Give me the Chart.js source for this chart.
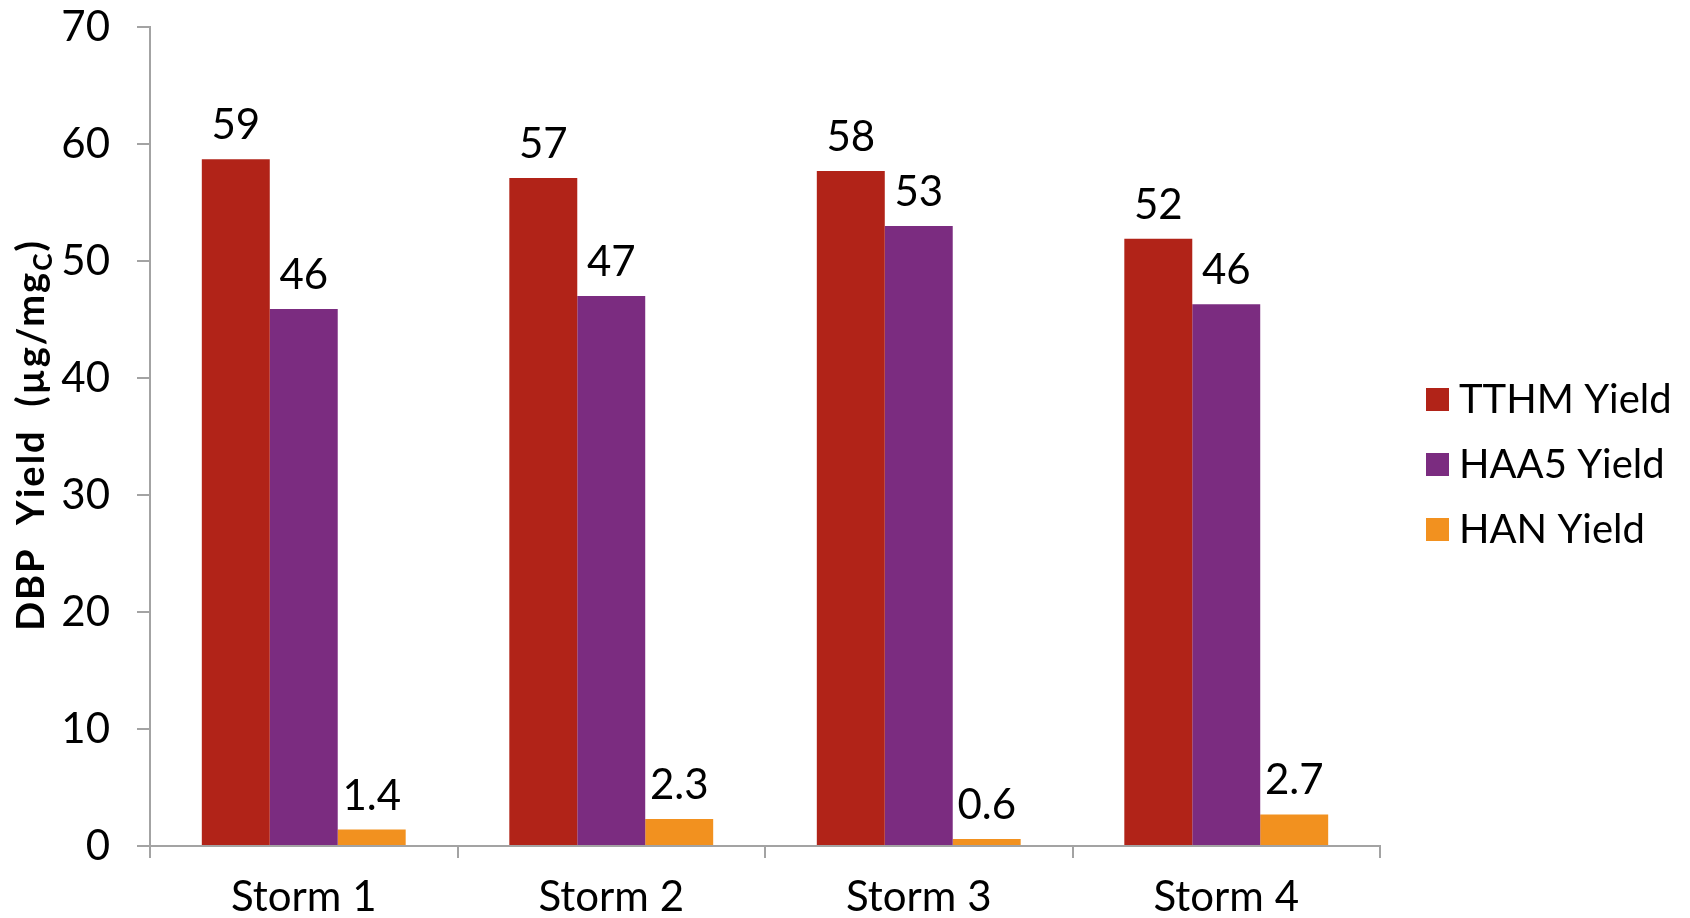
<!DOCTYPE html>
<html>
<head>
<meta charset="utf-8">
<script src="https://cdn.jsdelivr.net/npm/chart.js@4"></script>
<style>
  html, body { margin: 0; padding: 0; background: #fff; }
  #wrap { width: 1690px; height: 918px; }
</style>
</head>
<body>
<div id="wrap"><canvas id="yieldChart" width="1690" height="918"></canvas></div>
<script>
const storms = ['Storm 1', 'Storm 2', 'Storm 3', 'Storm 4'];
const tthmYield = [58.7, 57.1, 57.7, 51.9];
const haa5Yield = [45.9, 47.0, 53.0, 46.3];
const hanYield = [1.4, 2.3, 0.6, 2.7];
const tthmLabels = ['59', '57', '58', '52'];
const haa5Labels = ['46', '47', '53', '46'];
const hanLabels = ['1.4', '2.3', '0.6', '2.7'];
const yTicks = [0, 10, 20, 30, 40, 50, 60, 70];

const FONT = 'Lato, "Open Sans", "DejaVu Sans", sans-serif';
const axisGray = '#a3a3a3';

// value labels above each bar
const barLabels = {
    id: 'barLabels',
    afterDatasetsDraw(chart) {
        const ctx = chart.ctx;
        const allLabels = [tthmLabels, haa5Labels, hanLabels];
        ctx.save();
        ctx.font = '42px ' + FONT;
        ctx.fillStyle = '#000';
        ctx.textAlign = 'center';
        ctx.textBaseline = 'alphabetic';
        chart.data.datasets.forEach((ds, i) => {
            const meta = chart.getDatasetMeta(i);
            meta.data.forEach((bar, j) => {
                ctx.fillText(allLabels[i][j], bar.x, bar.y - 20);
            });
        });
        ctx.restore();
    }
};

// y title with subscript C, plus legend on the right
const extras = {
    id: 'extras',
    afterDraw(chart) {
        const ctx = chart.ctx;
        ctx.save();
        // y axis title
        const mainFont = 'bold 38px ' + FONT;
        const subFont = 'bold 26px ' + FONT;
        const partA = 'DBP  Yield  (\u00b5g/mg';
        const partB = 'C';
        const partC = ')';
        ctx.letterSpacing = '2px';
        ctx.font = mainFont;
        const wA = ctx.measureText(partA).width;
        const wC = ctx.measureText(partC).width;
        ctx.font = subFont;
        const wB = ctx.measureText(partB).width;
        const total = wA + wB + wC;
        ctx.translate(44, 435);
        ctx.rotate(-Math.PI / 2);
        ctx.fillStyle = '#000';
        ctx.textBaseline = 'alphabetic';
        ctx.textAlign = 'left';
        let x = -total / 2;
        ctx.font = mainFont;
        ctx.fillText(partA, x, 0);
        x += wA;
        ctx.font = subFont;
        ctx.fillText(partB, x, 8);
        x += wB;
        ctx.font = mainFont;
        ctx.fillText(partC, x, 0);
        ctx.restore();

        // legend
        ctx.save();
        ctx.font = '40px ' + FONT;
        ctx.textBaseline = 'middle';
        ctx.textAlign = 'left';
        chart.data.datasets.forEach((ds, i) => {
            const cy = 399.5 + i * 65;
            ctx.fillStyle = ds.backgroundColor;
            ctx.fillRect(1426, cy - 11.5, 23, 23);
            ctx.fillStyle = '#000';
            ctx.fillText(ds.label, 1459, cy + 1);
        });
        ctx.restore();
    }
};

new Chart(document.getElementById('yieldChart'), {
    type: 'bar',
    data: {
        labels: storms,
        datasets: [
            { label: 'TTHM Yield', data: tthmYield, backgroundColor: '#b12318' },
            { label: 'HAA5 Yield', data: haa5Yield, backgroundColor: '#7b2c80' },
            { label: 'HAN Yield', data: hanYield, backgroundColor: '#f2911f' }
        ]
    },
    options: {
        responsive: false,
        animation: false,
        layout: { padding: { top: 0, right: 310, left: 0, bottom: 0 } },
        datasets: {
            bar: { categoryPercentage: 0.663, barPercentage: 1.0 }
        },
        plugins: {
            legend: { display: false },
            tooltip: { enabled: false }
        },
        scales: {
            x: {
                grid: {
                    display: true,
                    drawOnChartArea: false,
                    drawTicks: true,
                    tickLength: 12,
                    color: axisGray,
                    lineWidth: 2
                },
                border: { display: true, color: axisGray, width: 2 },
                ticks: {
                    color: '#000',
                    font: { family: FONT, size: 42 },
                    padding: 14
                },
                afterFit(scale) { scale.height = 72; }
            },
            y: {
                min: 0,
                max: 70,
                afterBuildTicks(scale) { scale.ticks = yTicks.map(v => ({ value: v })); },
                grid: {
                    display: true,
                    drawOnChartArea: false,
                    drawTicks: true,
                    tickLength: 13,
                    color: axisGray,
                    lineWidth: 2
                },
                border: { display: true, color: axisGray, width: 2 },
                ticks: {
                    color: '#000',
                    font: { family: FONT, size: 42 },
                    padding: 27
                },
                afterFit(scale) {
                    scale.width = 150;
                    scale.paddingTop = 27;
                    scale.paddingBottom = 0;
                }
            }
        }
    },
    plugins: [barLabels, extras]
});
</script>
</body>
</html>
